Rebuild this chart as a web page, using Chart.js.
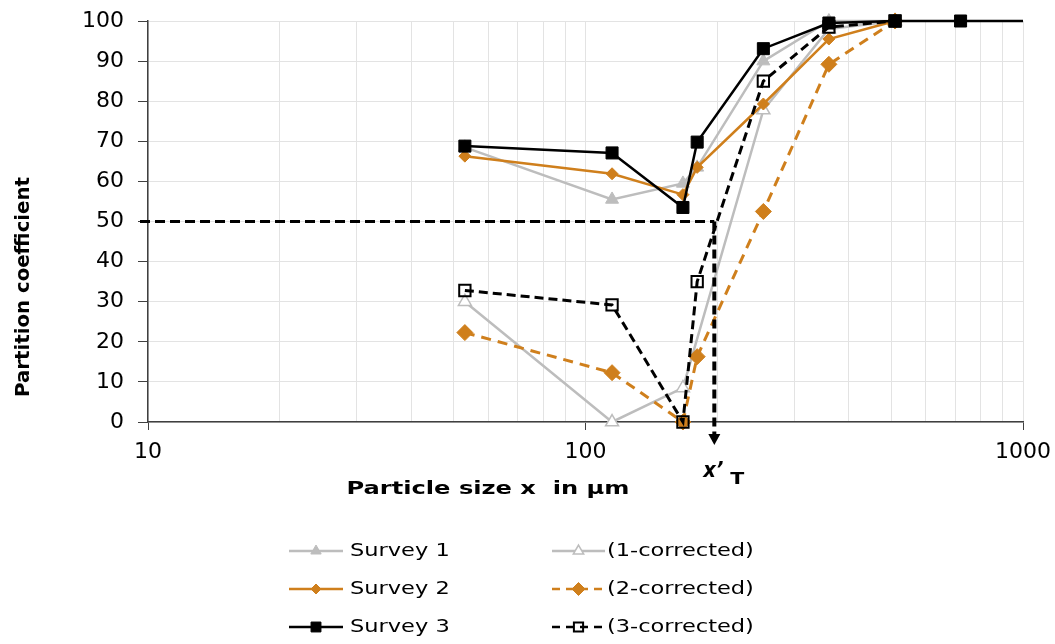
<!DOCTYPE html>
<html><head><meta charset="utf-8">
<script src="https://cdn.jsdelivr.net/npm/chart.js@4/dist/chart.umd.min.js"></script>
<style>html,body{margin:0;padding:0;background:#fff;}#wrap{position:relative;width:1055px;height:644px;}</style>
</head><body><div id="wrap"><canvas id="c" width="1055" height="644"></canvas></div>
<script>
// ---- data ----
const sizes = [53, 115, 167, 180, 255, 360, 510, 720, 1000];
const survey1 = [68.5, 55.5, 59.5, 63.5, 90, 100, 100, null, null];
const survey2 = [66.3, 61.9, 56.7, 63.5, 79.3, 95.5, 100, null, null];
const survey3 = [68.8, 67.1, 53.5, 69.8, 93.1, 99.5, 100, 100, 100];
const corrected1 = [30, 0, 8.5, null, 77.8, 98, 100, null, null];
const corrected2 = [22.3, 12.3, 0, 16.3, 52.5, 89.2, 100, null, null];
const corrected3 = [32.8, 29.2, 0, 35, 85, 98.5, 100, null, null];
const seriesNames = ['Survey 1', 'Survey 2', 'Survey 3', '(1-corrected)', '(2-corrected)', '(3-corrected)'];
const yTickValues = [0, 10, 20, 30, 40, 50, 60, 70, 80, 90, 100];
const xGridValues = [10, 20, 30, 40, 50, 60, 70, 80, 90, 100, 200, 300, 400, 500, 600, 700, 800, 900, 1000];
const xLabelValues = [10, 100, 1000];
const cutSize = 197;
const cutLevel = 50;
const cutLabel = ['x’', 'T'];
const xAxisTitle = 'Particle size x  in µm';
const yAxisTitle = 'Partition coefficient';

// ---- styles ----
const FONT = '"DejaVu Sans", "Liberation Sans", Arial, sans-serif';
const GREY = '#BDBDBD', ORANGE = '#CF7F1C', BLACK = '#000000';

function pts(arr) { return sizes.map((x, i) => ({ x: x, y: arr[i] })); }

const datasets = [
  { label: seriesNames[0], data: pts(survey1), borderColor: GREY, borderWidth: 2.5, pointStyle: 'triangle', pointRadius: 7.5,
    pointBackgroundColor: GREY, pointBorderColor: GREY, pointBorderWidth: 1, order: 4, legendRadius: 6 },
  { label: seriesNames[1], data: pts(survey2), borderColor: ORANGE, borderWidth: 2.5, pointStyle: 'rectRot', pointRadius: 6,
    pointBackgroundColor: ORANGE, pointBorderColor: ORANGE, pointBorderWidth: 1, order: 2, legendRadius: 5 },
  { label: seriesNames[2], data: pts(survey3), borderColor: BLACK, borderWidth: 2.5, pointStyle: 'rect',
    pointRadius: (c) => (c.raw && c.raw.x >= 1000) ? 0 : 8.5,
    pointBackgroundColor: BLACK, pointBorderColor: BLACK, pointBorderWidth: 1, order: 0, legendRadius: 7 },
  { label: seriesNames[3], data: pts(corrected1), borderColor: GREY, borderWidth: 2.5, pointStyle: 'triangle', pointRadius: 7.5,
    pointBackgroundColor: '#FFFFFF', pointBorderColor: GREY, pointBorderWidth: 1.5, order: 5, legendRadius: 6 },
  { label: seriesNames[4], data: pts(corrected2), borderColor: ORANGE, borderWidth: 3, borderDash: [10, 7], pointStyle: 'rectRot', pointRadius: 8,
    pointBackgroundColor: ORANGE, pointBorderColor: ORANGE, pointBorderWidth: 1, order: 3, legendRadius: 6.5 },
  { label: seriesNames[5], data: pts(corrected3), borderColor: BLACK, borderWidth: 3, borderDash: [9, 5], pointStyle: 'rect', pointRadius: 8,
    pointBackgroundColor: 'rgba(0,0,0,0)', pointBorderColor: BLACK, pointBorderWidth: 2, order: 1, legendRadius: 6.5 }
];
datasets.forEach(d => { d.spanGaps = true; d.tension = 0; d.fill = false; d.clip = false; d.backgroundColor = d.pointBackgroundColor; });

// legend layout: [dataset index, column, row]
const legendLayout = [[0, 0, 0], [3, 1, 0], [1, 0, 1], [4, 1, 1], [2, 0, 2], [5, 1, 2]];
const legendCols = [{ x0: 289, x1: 343, tx: 350 }, { x0: 552, x1: 605, tx: 607 }];
const legendRows = [551, 589, 627];

function drawStretched(ctx, text, x, y, targetW, align) {
  const w = ctx.measureText(text).width;
  const sx = targetW / w;
  ctx.save();
  ctx.translate(x, y);
  ctx.scale(sx, 1);
  ctx.textAlign = align;
  ctx.fillText(text, 0, 0);
  ctx.restore();
}

const extras = {
  id: 'extras',
  afterDatasetsDraw(chart) {
    const ctx = chart.ctx, xs = chart.scales.x, ys = chart.scales.y, area = chart.chartArea;
    const xp = xs.getPixelForValue(cutSize), yp = ys.getPixelForValue(cutLevel), y0 = ys.getPixelForValue(0);
    ctx.save();
    ctx.strokeStyle = '#000'; ctx.fillStyle = '#000';
    ctx.lineWidth = 3; ctx.setLineDash([10, 5]);
    ctx.beginPath(); ctx.moveTo(area.left - 8, yp); ctx.lineTo(xp, yp); ctx.stroke();
    ctx.lineWidth = 4; ctx.setLineDash([9, 5]);
    ctx.beginPath(); ctx.moveTo(xp, yp); ctx.lineTo(xp, y0 + 13); ctx.stroke();
    ctx.setLineDash([]);
    ctx.beginPath(); ctx.moveTo(xp - 6, y0 + 12); ctx.lineTo(xp + 6, y0 + 12); ctx.lineTo(xp, y0 + 23); ctx.closePath(); ctx.fill();
    ctx.restore();
  },
  afterDraw(chart) {
    const ctx = chart.ctx, xs = chart.scales.x;
    const xp = xs.getPixelForValue(cutSize);
    ctx.save();
    ctx.fillStyle = '#000';
    ctx.textBaseline = 'alphabetic';
    // x'T label
    ctx.font = 'italic bold 22px ' + FONT;
    drawStretched(ctx, cutLabel[0], xp - 11, 477, 20, 'left');
    ctx.font = 'bold 15px ' + FONT;
    drawStretched(ctx, cutLabel[1], xp + 16, 484, 14, 'left');
    // axis titles
    ctx.font = 'bold 18px ' + FONT;
    ctx.textBaseline = 'middle';
    drawStretched(ctx, xAxisTitle, 488, 489, 283, 'center');
    ctx.save();
    ctx.translate(24, 287);
    ctx.rotate(-Math.PI / 2);
    ctx.font = 'bold 19px ' + FONT;
    ctx.textAlign = 'center';
    const w = ctx.measureText(yAxisTitle).width;
    ctx.scale(220 / w, 1);
    ctx.fillText(yAxisTitle, 0, 0);
    ctx.restore();
    // legend
    ctx.font = '18px ' + FONT;
    legendLayout.forEach(([di, col, row]) => {
      const ds = chart.data.datasets[di];
      const c = legendCols[col], y = legendRows[row];
      ctx.save();
      ctx.strokeStyle = ds.borderColor;
      ctx.lineWidth = Math.min(ds.borderWidth, 2.5);
      ctx.setLineDash(ds.borderDash ? [8, 6] : []);
      ctx.beginPath(); ctx.moveTo(c.x0, y); ctx.lineTo(c.x1, y); ctx.stroke();
      ctx.setLineDash([]);
      ctx.fillStyle = ds.pointBackgroundColor;
      ctx.strokeStyle = ds.pointBorderColor;
      ctx.lineWidth = ds.pointBorderWidth;
      Chart.helpers.drawPoint(ctx, { pointStyle: ds.pointStyle, rotation: 0, radius: ds.legendRadius, borderWidth: ds.pointBorderWidth }, (c.x0 + c.x1) / 2, y);
      ctx.restore();
      ctx.fillStyle = '#000';
      ctx.textBaseline = 'middle';
      const txt = ds.label;
      const wt = ctx.measureText(txt).width;
      drawStretched(ctx, txt, c.tx, y, wt * 1.25, 'left');
    });
    ctx.restore();
  }
};

new Chart(document.getElementById('c'), {
  type: 'line',
  data: { datasets: datasets },
  options: {
    responsive: false, animation: false, devicePixelRatio: 1, events: [],
    layout: { padding: { left: 0, right: 32, top: 21, bottom: 0 } },
    plugins: { legend: { display: false }, tooltip: { enabled: false } },
    scales: {
      x: {
        type: 'logarithmic', min: 10, max: 1000,
        afterBuildTicks: (s) => { s.ticks = xGridValues.map(v => ({ value: v })); },
        afterFit: (s) => { s.height = 222; s.paddingLeft = 0; s.paddingRight = 0; },
        ticks: { autoSkip: false, maxRotation: 0, minRotation: 0, padding: 9, color: '#000',
          font: { family: FONT, size: 22 },
          callback: (v) => xLabelValues.includes(v) ? String(v) : '' },
        grid: { color: '#E3E3E3', lineWidth: 1, tickLength: 8,
          tickColor: (c) => (c.tick && xLabelValues.includes(c.tick.value)) ? '#404040' : 'rgba(0,0,0,0)' },
        border: { color: '#404040', width: 1.5 }
      },
      y: {
        min: 0, max: 100,
        afterBuildTicks: (s) => { s.ticks = yTickValues.map(v => ({ value: v })); },
        afterFit: (s) => { s.width = 148; s.paddingTop = 0; s.paddingBottom = 0; },
        ticks: { padding: 14, color: '#000', font: { family: FONT, size: 22 } },
        grid: { color: '#E3E3E3', lineWidth: 1, tickLength: 10, tickColor: '#404040' },
        border: { color: '#404040', width: 1.5 }
      }
    }
  },
  plugins: [extras]
});
</script>
</body></html>
